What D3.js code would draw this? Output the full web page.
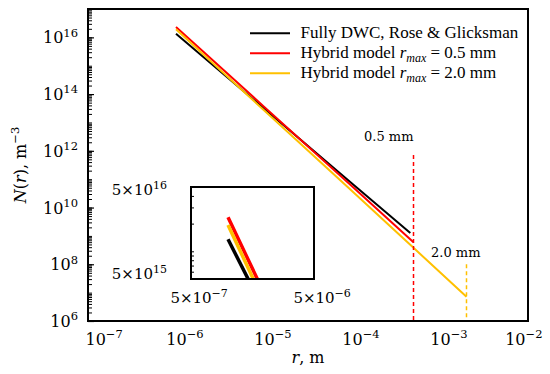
<!DOCTYPE html>
<html>
<head>
<meta charset="utf-8">
<script src="https://cdn.jsdelivr.net/npm/d3@7"></script>
<style>
  body { margin: 0; background: #fff; }
  svg { display: block; }
</style>
</head>
<body>
<script>
// values (r in m, N in m^-3)
const rBlack = [1e-6, 1e-5, 1e-4, 4.6e-4];
const nBlack = [1.35e16, 3.1e13, 7.1e10, 1.26e9];
const rRed = [1e-6, 1e-5, 1e-4, 5e-4];
const nRed = [2.34e16, 3.6e13, 5.6e10, 6.0e8];
const rYellow = [1e-6, 1e-5, 1e-4, 5e-4, 2e-3];
const nYellow = [1.93e16, 2.7e13, 3.8e10, 3.8e8, 7.2e6];

const seriesNames = ["Fully DWC, Rose & Glicksman", "Hybrid model", "Hybrid model"];
const seriesRmax = [null, "0.5", "2.0"];
const seriesColors = ["#000000", "#ff0000", "#ffc000"];

// x tick exponents, y tick exponents (main), inset ticks
const xTickExp = [-7, -6, -5, -4, -3, -2];
const yTickExp = [6, 8, 10, 12, 14, 16];
const insetX = [5e-7, 5e-6];
const insetY = [5e15, 5e16];

// r_max markers: [r, top of dashed line, label]
const markerR = [5e-4, 2e-3];
const markerTop = [7.1e11, 1e8];
const markerLabel = ["0.5 mm", "2.0 mm"];

const width = 550, height = 374;
const margin = {top: 9, right: 22, bottom: 53, left: 88};
const serif = "'DejaVu Serif', serif";
const times = "'Liberation Serif', 'Times New Roman', serif";

const svg = d3.select("body").append("svg")
    .attr("width", width)
    .attr("height", height);

let x = d3.scaleLog().domain([1e-7, 1e-2]).range([margin.left, width - margin.right]);
let y = d3.scaleLog().domain([1e6, 1e17]).range([height - margin.bottom, margin.top]);

let series = [
    {r: rBlack, n: nBlack},
    {r: rRed, n: nRed},
    {r: rYellow, n: nYellow}
];

// writes "base" + superscript into a text node
function powerLabel(sel, base, sup, size, supSize) {
    sel.text(null);
    sel.append("tspan").attr("class", "base").style("font-size", size + "px").text(base);
    sel.append("tspan").style("font-size", supSize + "px").attr("dy", -0.42 * size).text(sup);
}

function expStr(e) { return e < 0 ? "\u2212" + (-e) : "" + e; }

// ---------- main plot ----------
svg.append("defs").append("clipPath").attr("id", "clip-main")
    .append("rect")
    .attr("x", margin.left).attr("y", margin.top)
    .attr("width", width - margin.left - margin.right)
    .attr("height", height - margin.top - margin.bottom);

// y minor ticks
let yMinor = [];
for (let e = 6; e < 17; e++) for (let k = 1; k < 10; k++) yMinor.push(k * Math.pow(10, e));
yMinor.push(1e17);

svg.append("g")
    .attr("transform", `translate(${margin.left},0)`)
    .call(d3.axisLeft(y).tickValues(yMinor).tickSizeInner(-4).tickSizeOuter(0).tickFormat(""))
    .call(g => g.select(".domain").remove())
    .selectAll("line").attr("stroke", "#000").attr("stroke-width", 1);

let yAxis = svg.append("g")
    .attr("transform", `translate(${margin.left},0)`)
    .call(d3.axisLeft(y).tickValues(yTickExp.map(e => Math.pow(10, e)))
        .tickSizeInner(-6).tickSizeOuter(0).tickPadding(10).tickFormat(""));
yAxis.select(".domain").remove();
yAxis.selectAll(".tick line").attr("stroke", "#000").attr("stroke-width", 1.2);
yAxis.selectAll(".tick text")
    .attr("dy", null).attr("y", 5.5)
    .style("font-family", serif).attr("fill", "#000")
    .each(function (d) {
        powerLabel(d3.select(this), "10", expStr(Math.round(Math.log10(d))), 16, 11.5);
    });

let xAxis = svg.append("g")
    .attr("transform", `translate(0,${height - margin.bottom})`)
    .call(d3.axisBottom(x).tickValues(xTickExp.map(e => Math.pow(10, e)))
        .tickSize(0).tickFormat(""));
xAxis.select(".domain").remove();
xAxis.selectAll(".tick text")
    .attr("dy", null).attr("y", 24)
    .attr("text-anchor", "start")
    .style("font-family", serif).attr("fill", "#000")
    .each(function (d) {
        let t = d3.select(this);
        powerLabel(t, "10", expStr(Math.round(Math.log10(d))), 16, 11.5);
        let bw = t.select(".base").node().getComputedTextLength();
        let tw = this.getComputedTextLength();
        let tx = x(d);
        let left = Math.max(tx - bw / 2, 85);
        left = Math.min(left, 542 - tw);
        t.attr("x", left - tx);
    });

// data lines
let line = d3.line().x(d => x(d[0])).y(d => y(d[1]));
let gLines = svg.append("g").attr("clip-path", "url(#clip-main)");
gLines.selectAll("path")
    .data(series)
    .enter()
    .append("path")
    .attr("fill", "none")
    .attr("stroke", (d, i) => seriesColors[i])
    .attr("stroke-width", 2)
    .attr("d", d => line(d.r.map((r, i) => [r, d.n[i]])));

// r_max dashed markers
svg.append("g").selectAll("line")
    .data(markerR)
    .enter()
    .append("line")
    .attr("x1", d => x(d)).attr("x2", d => x(d))
    .attr("y1", (d, i) => y(markerTop[i]))
    .attr("y2", y(1e6))
    .attr("stroke", (d, i) => seriesColors[i + 1])
    .attr("stroke-width", 1.5)
    .attr("stroke-dasharray", "4,3");

svg.append("g").selectAll("text")
    .data(markerR)
    .enter()
    .append("text")
    .attr("x", (d, i) => x(d) + (i === 0 ? 0 : 14))
    .attr("y", (d, i) => y(markerTop[i]) - (i === 0 ? 14 : 7))
    .attr("text-anchor", "end")
    .style("font-family", serif).style("font-size", "13px")
    .text((d, i) => markerLabel[i]);

// frame
svg.append("rect")
    .attr("x", margin.left).attr("y", margin.top)
    .attr("width", width - margin.left - margin.right)
    .attr("height", height - margin.top - margin.bottom)
    .attr("fill", "none").attr("stroke", "#000").attr("stroke-width", 2);

// legend
let legend = svg.append("g");
seriesNames.forEach(function (name, i) {
    let ly = 33.3 + i * 20;
    legend.append("line")
        .attr("x1", 250).attr("x2", 290).attr("y1", ly).attr("y2", ly)
        .attr("stroke", seriesColors[i]).attr("stroke-width", 2);
    let t = legend.append("text")
        .attr("x", 300.5).attr("y", ly + 5)
        .style("font-family", times).style("font-size", "17px");
    if (seriesRmax[i] === null) {
        t.text(name);
    } else {
        t.append("tspan").text(name + " ");
        t.append("tspan").style("font-style", "italic").text("r");
        t.append("tspan").style("font-style", "italic").style("font-size", "12px").attr("dy", 4).text("max");
        t.append("tspan").attr("dy", -4).text(" = " + seriesRmax[i] + " mm");
    }
});

// axis titles
let xt = svg.append("text")
    .attr("x", (margin.left + width - margin.right) / 2).attr("y", 363)
    .attr("text-anchor", "middle")
    .style("font-family", serif).style("font-size", "16px");
xt.append("tspan").style("font-style", "italic").text("r");
xt.append("tspan").text(", m");

let yt = svg.append("text")
    .attr("transform", `translate(26,${(margin.top + height - margin.bottom) / 2}) rotate(-90)`)
    .attr("text-anchor", "middle")
    .style("font-family", serif).style("font-size", "16px");
yt.append("tspan").style("font-style", "italic").text("N");
yt.append("tspan").text("(");
yt.append("tspan").style("font-style", "italic").text("r");
yt.append("tspan").text("), m");
yt.append("tspan").style("font-size", "11.5px").attr("dy", -7).text("\u22123");

// ---------- inset ----------
const inset = {left: 191, top: 187, right: 314, bottom: 279};
let xi = d3.scaleLog().domain(insetX).range([inset.left, inset.right]);
let yi = d3.scaleLog().domain(insetY).range([inset.bottom, inset.top]);

svg.select("defs").append("clipPath").attr("id", "clip-inset")
    .append("rect")
    .attr("x", inset.left).attr("y", inset.top)
    .attr("width", inset.right - inset.left)
    .attr("height", inset.bottom - inset.top);

svg.append("rect")
    .attr("x", inset.left).attr("y", inset.top)
    .attr("width", inset.right - inset.left)
    .attr("height", inset.bottom - inset.top)
    .attr("fill", "#fff");

let yiMinor = [6e15, 7e15, 8e15, 9e15, 1e16, 2e16, 3e16, 4e16];
svg.append("g")
    .attr("transform", `translate(${inset.left},0)`)
    .call(d3.axisLeft(yi).tickValues(yiMinor).tickSizeInner(-3).tickSizeOuter(0).tickFormat(""))
    .call(g => g.select(".domain").remove())
    .selectAll("line").attr("stroke", "#000");

let lineInset = d3.line().x(d => xi(d[0])).y(d => yi(d[1]));
svg.append("g").attr("clip-path", "url(#clip-inset)")
    .selectAll("path")
    .data(series)
    .enter()
    .append("path")
    .attr("fill", "none")
    .attr("stroke", (d, i) => seriesColors[i])
    .attr("stroke-width", 3.5)
    .attr("d", d => lineInset(d.r.map((r, i) => [r, d.n[i]])));

svg.append("rect")
    .attr("x", inset.left).attr("y", inset.top)
    .attr("width", inset.right - inset.left)
    .attr("height", inset.bottom - inset.top)
    .attr("fill", "none").attr("stroke", "#000").attr("stroke-width", 2);

// inset tick labels
svg.append("g").selectAll("text")
    .data(insetY)
    .enter()
    .append("text")
    .attr("x", inset.left - 24)
    .attr("y", d => Math.min(Math.max(yi(d) + 5.5, inset.top + 8), inset.bottom))
    .attr("text-anchor", "end")
    .style("font-family", serif)
    .each(function (d) {
        powerLabel(d3.select(this), "5\u00d710", expStr(Math.round(Math.log10(d / 5))), 15, 11);
    });

svg.append("g").selectAll("text")
    .data(insetX)
    .enter()
    .append("text")
    .attr("y", inset.bottom + 24)
    .style("font-family", serif)
    .each(function (d) {
        let t = d3.select(this);
        powerLabel(t, "5\u00d710", expStr(Math.round(Math.log10(d / 5))), 15, 11);
        let bw = t.select(".base").node().getComputedTextLength();
        t.attr("x", xi(d) - bw / 2);
    });
</script>
</body>
</html>
